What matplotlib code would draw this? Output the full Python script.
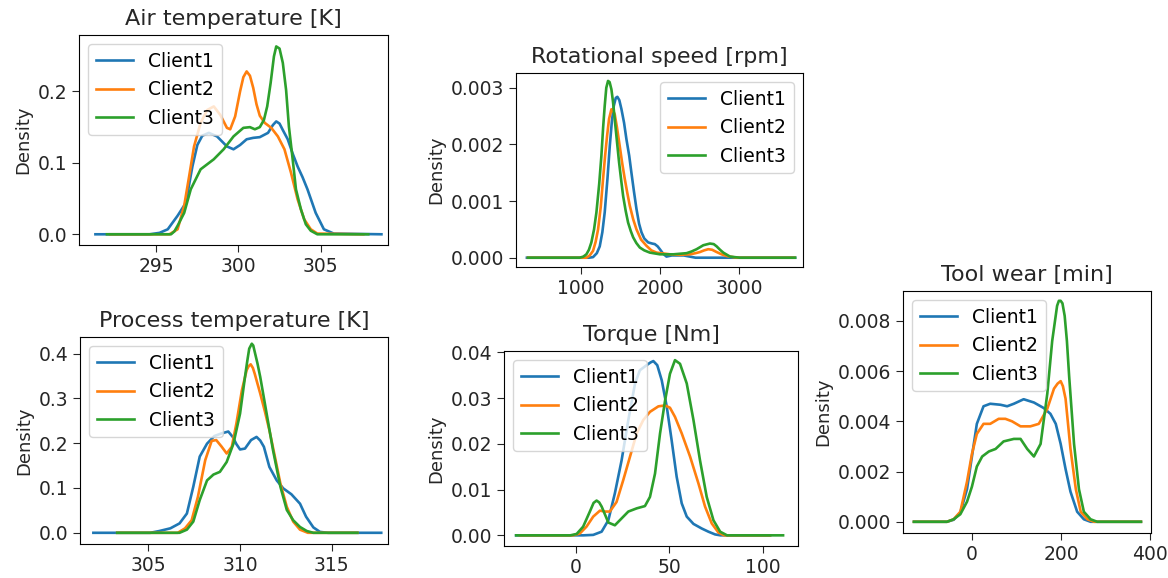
import matplotlib
matplotlib.use("Agg")
import matplotlib.pyplot as plt

labels = ["Client1", "Client2", "Client3"]
colors = ["#1f77b4", "#ff7f0e", "#2ca02c"]

# Air temperature [K] - curve points
air_x1 = [291.3, 294.6, 295.2, 295.7, 296.3, 296.8, 297.2, 297.5, 297.8, 298.2, 298.7, 299.3, 299.7,
          300.1, 300.5, 300.9, 301.3, 301.8, 302.1, 302.3, 302.5, 302.7, 303.0, 303.3, 303.6, 303.9,
          304.2, 304.7, 305.2, 305.8, 308.7]
air_y1 = [0, 0, 0.002, 0.007, 0.026, 0.044, 0.095, 0.125, 0.138, 0.142, 0.137, 0.123, 0.119,
          0.125, 0.133, 0.135, 0.136, 0.142, 0.153, 0.158, 0.155, 0.146, 0.133, 0.113, 0.095, 0.080,
          0.063, 0.030, 0.007, 0.001, 0]
air_x2 = [292.2, 295.8, 296.3, 296.7, 297.0, 297.3, 297.7, 298.1, 298.5, 298.9, 299.3, 299.5, 299.8,
          300.1, 300.3, 300.5, 300.7, 300.9, 301.1, 301.3, 301.6, 302.0, 302.4, 302.8, 303.2, 303.6,
          304.0, 304.4, 304.8, 307.6]
air_y2 = [0, 0, 0.007, 0.040, 0.081, 0.123, 0.156, 0.174, 0.179, 0.167, 0.149, 0.147, 0.165,
          0.200, 0.220, 0.228, 0.222, 0.205, 0.182, 0.166, 0.156, 0.149, 0.137, 0.119, 0.086, 0.049,
          0.021, 0.007, 0.001, 0]
air_x3 = [292.0, 295.9, 296.1, 296.3, 296.7, 297.1, 297.7, 298.5, 299.1, 299.7, 300.3, 300.7, 301.0,
          301.3, 301.55, 301.75, 301.96, 302.16, 302.3, 302.5, 302.7, 302.9, 303.07, 303.3, 303.5,
          303.8, 304.1, 304.4, 304.8, 307.9]
air_y3 = [0, 0, 0.004, 0.012, 0.030, 0.063, 0.091, 0.105, 0.119, 0.137, 0.149, 0.150, 0.147,
          0.150, 0.160, 0.179, 0.212, 0.249, 0.263, 0.260, 0.240, 0.202, 0.151, 0.105, 0.063,
          0.035, 0.014, 0.005, 0, 0]

# Rotational speed [rpm]
rot_x1 = [315, 1100, 1152, 1200, 1237, 1270, 1300, 1335, 1364, 1390, 1415, 1440, 1460, 1485, 1512,
          1545, 1575, 1610, 1638, 1670, 1702, 1735, 1765, 1800, 1850, 1900, 1934, 1970, 1998, 2040,
          2082, 2150, 2300, 2450, 3710]
rot_y1 = [0, 0, 0.00001, 0.00008, 0.0002, 0.00045, 0.0008, 0.0014, 0.00197, 0.0024, 0.00268,
          0.00282, 0.00284, 0.00278, 0.00262, 0.00238, 0.00209, 0.0018, 0.0015, 0.00117, 0.00086,
          0.0006, 0.00045, 0.00034, 0.00027, 0.00025, 0.00024, 0.0002, 0.00015, 0.00007, 0.00002,
          0.00004, 0.00004, 0, 0]
rot_x2 = [330, 1068, 1110, 1152, 1185, 1216, 1250, 1279, 1305, 1330, 1355, 1385, 1405, 1427, 1455,
          1490, 1520, 1554, 1585, 1617, 1660, 1702, 1760, 1829, 1890, 1956, 2125, 2250, 2378, 2450,
          2505, 2560, 2611, 2660, 2717, 2780, 2843, 2970, 3700]
rot_y2 = [0, 0, 0.00004, 0.00012, 0.00028, 0.0005, 0.0009, 0.00139, 0.0018, 0.00215, 0.00245,
          0.00262, 0.0026, 0.00253, 0.0023, 0.00197, 0.00168, 0.00139, 0.00115, 0.00092, 0.00068,
          0.0005, 0.00032, 0.00021, 0.00013, 0.00009, 0.00006, 0.00005, 0.00006, 0.00008, 0.0001,
          0.00013, 0.00015, 0.00014, 0.0001, 0.00006, 0.00003, 0, 0]
rot_x3 = [330, 983, 1030, 1068, 1100, 1131, 1165, 1195, 1230, 1258, 1280, 1300, 1320, 1342, 1362,
          1385, 1405, 1427, 1455, 1482, 1510, 1533, 1565, 1596, 1630, 1660, 1700, 1744, 1800, 1871,
          1998, 2170, 2336, 2400, 2463, 2548, 2632, 2680, 2717, 2760, 2801, 2886, 3010, 3710]
rot_y3 = [0, 0, 0.00002, 0.00006, 0.00014, 0.00027, 0.0005, 0.0008, 0.0013, 0.0018, 0.0023,
          0.00268, 0.003, 0.00312, 0.0031, 0.00297, 0.00275, 0.00244, 0.00205, 0.00168, 0.00135,
          0.00109, 0.00083, 0.00062, 0.00047, 0.00036, 0.00026, 0.00018, 0.00013, 0.00009,
          0.00006, 0.00006, 0.00008, 0.00011, 0.00015, 0.00022, 0.00025, 0.00024, 0.0002,
          0.00014, 0.00009, 0.00002, 0, 0]

# Process temperature [K]
proc_x1 = [302.0, 305.1, 305.6, 306.2, 306.7, 307.1, 307.45, 307.8, 308.2, 308.6, 309.0, 309.36,
           309.6, 309.8, 310.0, 310.27, 310.6, 310.9, 311.1, 311.3, 311.6, 312.0, 312.36, 312.8,
           313.27, 313.6, 314.0, 314.36, 314.8, 317.7]
proc_y1 = [0, 0, 0.004, 0.010, 0.021, 0.043, 0.103, 0.170, 0.199, 0.216, 0.222, 0.226,
           0.214, 0.198, 0.186, 0.188, 0.207, 0.214, 0.206, 0.192, 0.147, 0.117, 0.099, 0.086,
           0.065, 0.036, 0.012, 0.002, 0, 0]
proc_x2 = [303.3, 306.6, 307.0, 307.36, 307.7, 308.1, 308.45, 308.7, 309.0, 309.27, 309.55, 309.8,
           310.1, 310.36, 310.47, 310.58, 310.7, 310.8, 311.1, 311.36, 311.6, 311.9, 312.2, 312.55,
           312.9, 313.27, 313.7, 316.4]
proc_y2 = [0, 0, 0.010, 0.028, 0.080, 0.162, 0.205, 0.207, 0.192, 0.177, 0.192, 0.244,
           0.318, 0.363, 0.372, 0.376, 0.368, 0.355, 0.311, 0.270, 0.229, 0.170, 0.110, 0.058,
           0.025, 0.007, 0, 0]
proc_x3 = [303.3, 306.7, 307.1, 307.45, 307.8, 308.2, 308.55, 308.9, 309.27, 309.64, 310.0, 310.27,
           310.4, 310.5, 310.64, 310.72, 310.8, 310.95, 311.1, 311.45, 311.8, 312.2, 312.55, 312.9,
           313.27, 313.64, 314.0, 316.4]
proc_y3 = [0, 0, 0.007, 0.025, 0.073, 0.117, 0.130, 0.136, 0.158, 0.199, 0.266, 0.348,
           0.385, 0.411, 0.422, 0.418, 0.404, 0.378, 0.348, 0.266, 0.184, 0.103, 0.051, 0.028,
           0.013, 0.004, 0, 0]

# Torque [Nm]
torq_x1 = [-32, 4, 9.3, 13.8, 17.4, 20.9, 24.5, 28.1, 31.7, 34.3, 37.9, 40.0, 41.5, 43.6, 46.0, 48.7,
           51.3, 54.0, 56.7, 59.4, 63.0, 67.4, 71.0, 74.6, 77.5, 104]
torq_y1 = [0, 0, 0.0001, 0.0008, 0.0033, 0.0092, 0.0164, 0.0252, 0.0332, 0.0361, 0.0372, 0.0378,
           0.0381, 0.0372, 0.0339, 0.0281, 0.0208, 0.0128, 0.0070, 0.0041, 0.0025, 0.0015, 0.0008,
           0.0002, 0, 0]
torq_x2 = [-30, -1.5, 2.1, 5.7, 9.3, 12.9, 15.6, 18.2, 21.8, 25.4, 29.0, 32.6, 36.1, 39.7, 44.2, 47.8,
           50.4, 53.1, 56.7, 61.2, 65.7, 69.2, 72.8, 76.4, 79.5, 104]
torq_y2 = [0, 0, 0.0004, 0.0019, 0.0041, 0.0054, 0.0052, 0.0052, 0.0073, 0.0121, 0.0172, 0.0223,
           0.0252, 0.0270, 0.0282, 0.0284, 0.0279, 0.0259, 0.0223, 0.0172, 0.0113, 0.0063, 0.0026,
           0.0006, 0, 0]
torq_x3 = [-32, -3, 0.4, 3.9, 7.5, 9.5, 11.1, 12.5, 13.8, 17.4, 20.9, 24.5, 28.1, 32.6, 37.0, 39.7,
           42.4, 45.1, 47.8, 50.4, 53.1, 55.8, 59.4, 63.0, 66.5, 70.1, 73.7, 77.3, 81, 111]
torq_y3 = [0, 0, 0.0003, 0.0019, 0.0052, 0.0071, 0.0076, 0.0072, 0.0063, 0.0028, 0.0022, 0.0037,
           0.0052, 0.0059, 0.0064, 0.0084, 0.0135, 0.0223, 0.0295, 0.0353, 0.0383, 0.0375, 0.0332,
           0.0252, 0.0164, 0.0084, 0.0033, 0.0008, 0, 0]

# Tool wear [min]
tool_x1 = [-130, -56, -41, -26, -11, 0, 11, 26, 41, 64, 79, 94, 116, 139, 161, 176, 188, 199, 210,
           221, 236, 251, 266, 379]
tool_y1 = [0, 0, 0.00008, 0.00037, 0.0013, 0.0026, 0.0039, 0.0046, 0.0047, 0.00466, 0.0046,
           0.0047, 0.00488, 0.00475, 0.00453, 0.0043, 0.0039, 0.0031, 0.0021, 0.0012, 0.0004,
           0.0001, 0, 0]
tool_x2 = [-130, -56, -41, -26, -11, 0, 11, 26, 41, 60, 75, 90, 109, 131, 150, 169, 184, 192, 199,
           204, 210, 221, 233, 244, 259, 274, 379]
tool_y2 = [0, 0, 0.0001, 0.0004, 0.0016, 0.0027, 0.0035, 0.0039, 0.0039, 0.0041, 0.0041, 0.0040,
           0.0038, 0.0038, 0.0039, 0.0045, 0.0053, 0.0055, 0.0056, 0.0054, 0.0049, 0.0029, 0.0013,
           0.0004, 0.0001, 0, 0]
tool_x3 = [-130, -56, -41, -26, -11, 0, 11, 23, 38, 53, 71, 94, 109, 124, 139, 154, 169, 180, 191,
           195, 199, 203, 208, 213, 218, 229, 240, 251, 266, 281, 379]
tool_y3 = [0, 0, 0.0001, 0.0003, 0.0008, 0.0014, 0.0022, 0.0026, 0.0028, 0.0029, 0.0032, 0.0033,
           0.0033, 0.0029, 0.0026, 0.0031, 0.0051, 0.0072, 0.0086, 0.0088, 0.0088, 0.0087, 0.0082,
           0.0072, 0.0058, 0.0031, 0.0013, 0.0004, 0.0001, 0, 0]

panels = [
    ("Air temperature [K]", [(air_x1, air_y1), (air_x2, air_y2), (air_x3, air_y3)],
     [79, 35, 388, 245], (290.3, 309.1), (-0.015, 0.279), [295, 300, 305], [0.0, 0.1, 0.2], "%.1f", "upper left"),
    ("Rotational speed [rpm]", [(rot_x1, rot_y1), (rot_x2, rot_y2), (rot_x3, rot_y3)],
     [516, 73, 803, 267], (177, 3810), (-0.000164, 0.00326), [1000, 2000, 3000],
     [0.0, 0.001, 0.002, 0.003], "%.3f", "upper right"),
    ("Process temperature [K]", [(proc_x1, proc_y1), (proc_x2, proc_y2), (proc_x3, proc_y3)],
     [80, 337, 388, 544], (301.27, 318.07), (-0.025, 0.437), [305, 310, 315],
     [0.0, 0.1, 0.2, 0.3, 0.4], "%.1f", "upper left"),
    ("Torque [Nm]", [(torq_x1, torq_y1), (torq_x2, torq_y2), (torq_x3, torq_y3)],
     [504, 351, 798, 546], (-38.5, 119), (-0.00233, 0.0403), [0, 50, 100],
     [0.0, 0.01, 0.02, 0.03, 0.04], "%.2f", "upper left"),
    ("Tool wear [min]", [(tool_x1, tool_y1), (tool_x2, tool_y2), (tool_x3, tool_y3)],
     [903, 291, 1151, 533], (-154.6, 401.6), (-0.000447, 0.00919), [0, 200, 400],
     [0.0, 0.002, 0.004, 0.006, 0.008], "%.3f", "upper left"),
]

W, H = 1168, 578
fig = plt.figure(figsize=(W / 100, H / 100), dpi=100)

for title, curves, box, xlim, ylim, xt, yt, fmt, loc in panels:
    l, t, r, b = box
    ax = fig.add_axes([l / W, 1 - b / H, (r - l) / W, (b - t) / H])
    for (xs, ys), c, lab in zip(curves, colors, labels):
        ax.plot(xs, ys, color=c, lw=1.9, label=lab)
    ax.set_xlim(*xlim)
    ax.set_ylim(*ylim)
    ax.set_xticks(xt)
    ax.set_yticks(yt)
    ax.set_yticklabels([fmt % v for v in yt])
    ax.tick_params(labelsize=13.5, length=5, colors="#262626", labelcolor="#262626")
    ax.set_title(title, fontsize=16, pad=7, color="#262626")
    ax.set_ylabel("Density", fontsize=13, color="#262626")
    ax.legend(loc=loc, fontsize=13.5)

fig.savefig("out.png", dpi=100)
